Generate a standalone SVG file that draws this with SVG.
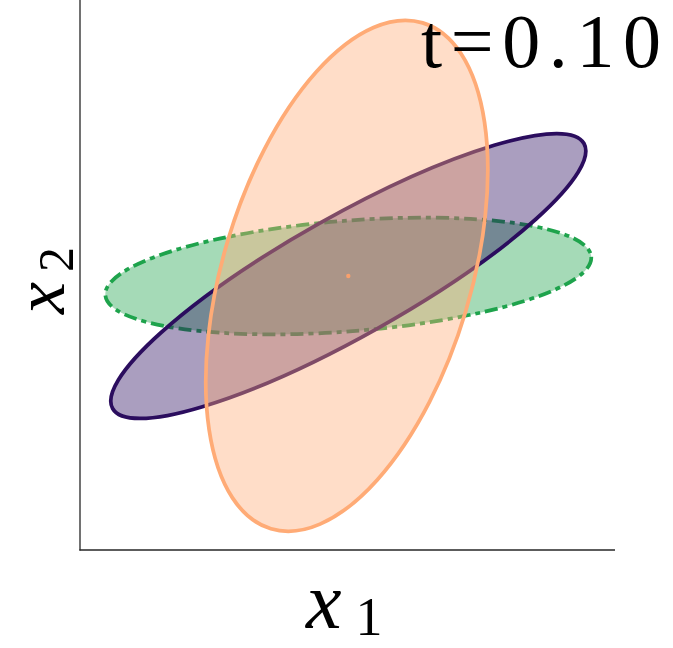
<svg xmlns="http://www.w3.org/2000/svg" width="673" height="648" viewBox="0 0 673 648">
<style>
.ell{stroke-width:3.75}
</style>
<rect width="673" height="648" fill="#ffffff"/>
<g id="axes" stroke="#262626" stroke-width="1.3" fill="none">
<line x1="80" y1="0" x2="80" y2="550.5"/>
<line x1="79.4" y1="550" x2="615" y2="550"/>
</g>
<g id="ellipse-green">
<ellipse class="ell" cx="348.3" cy="276" rx="243.7" ry="55.3" transform="rotate(-4.52 348.3 276)" fill="#1ea34c" fill-opacity="0.4" stroke="#1ea34c" stroke-dasharray="13 5 5 5"/>
</g>
<g id="ellipse-purple">
<ellipse class="ell" cx="348.3" cy="276" rx="270.4" ry="60" transform="rotate(-29.35 348.3 276)" fill="#2b0d5e" fill-opacity="0.4" stroke="#2b0d5e"/>
</g>
<g id="ellipse-orange">
<ellipse class="ell" cx="346.8" cy="275.8" rx="124.1" ry="264.1" transform="rotate(16.7 346.8 275.8)" fill="#ffab76" fill-opacity="0.4" stroke="#ffab76"/>
</g>
<g id="center">
<circle cx="348.3" cy="276" r="2.2" fill="#f9a06c"/>
</g>
<g id="labels" font-family="'Liberation Serif','DejaVu Serif',serif" fill="#000">
<text x="421" y="67" font-size="76" textLength="240" lengthAdjust="spacing">t=0.10</text>
<text x="306" y="628" font-size="80"><tspan font-style="italic">x</tspan><tspan dx="14" dy="7" font-size="54">1</tspan></text>
<text font-size="72" transform="translate(64 314) rotate(-90)"><tspan font-style="italic">x</tspan><tspan dx="10" dy="9" font-size="50">2</tspan></text>
</g>
</svg>
